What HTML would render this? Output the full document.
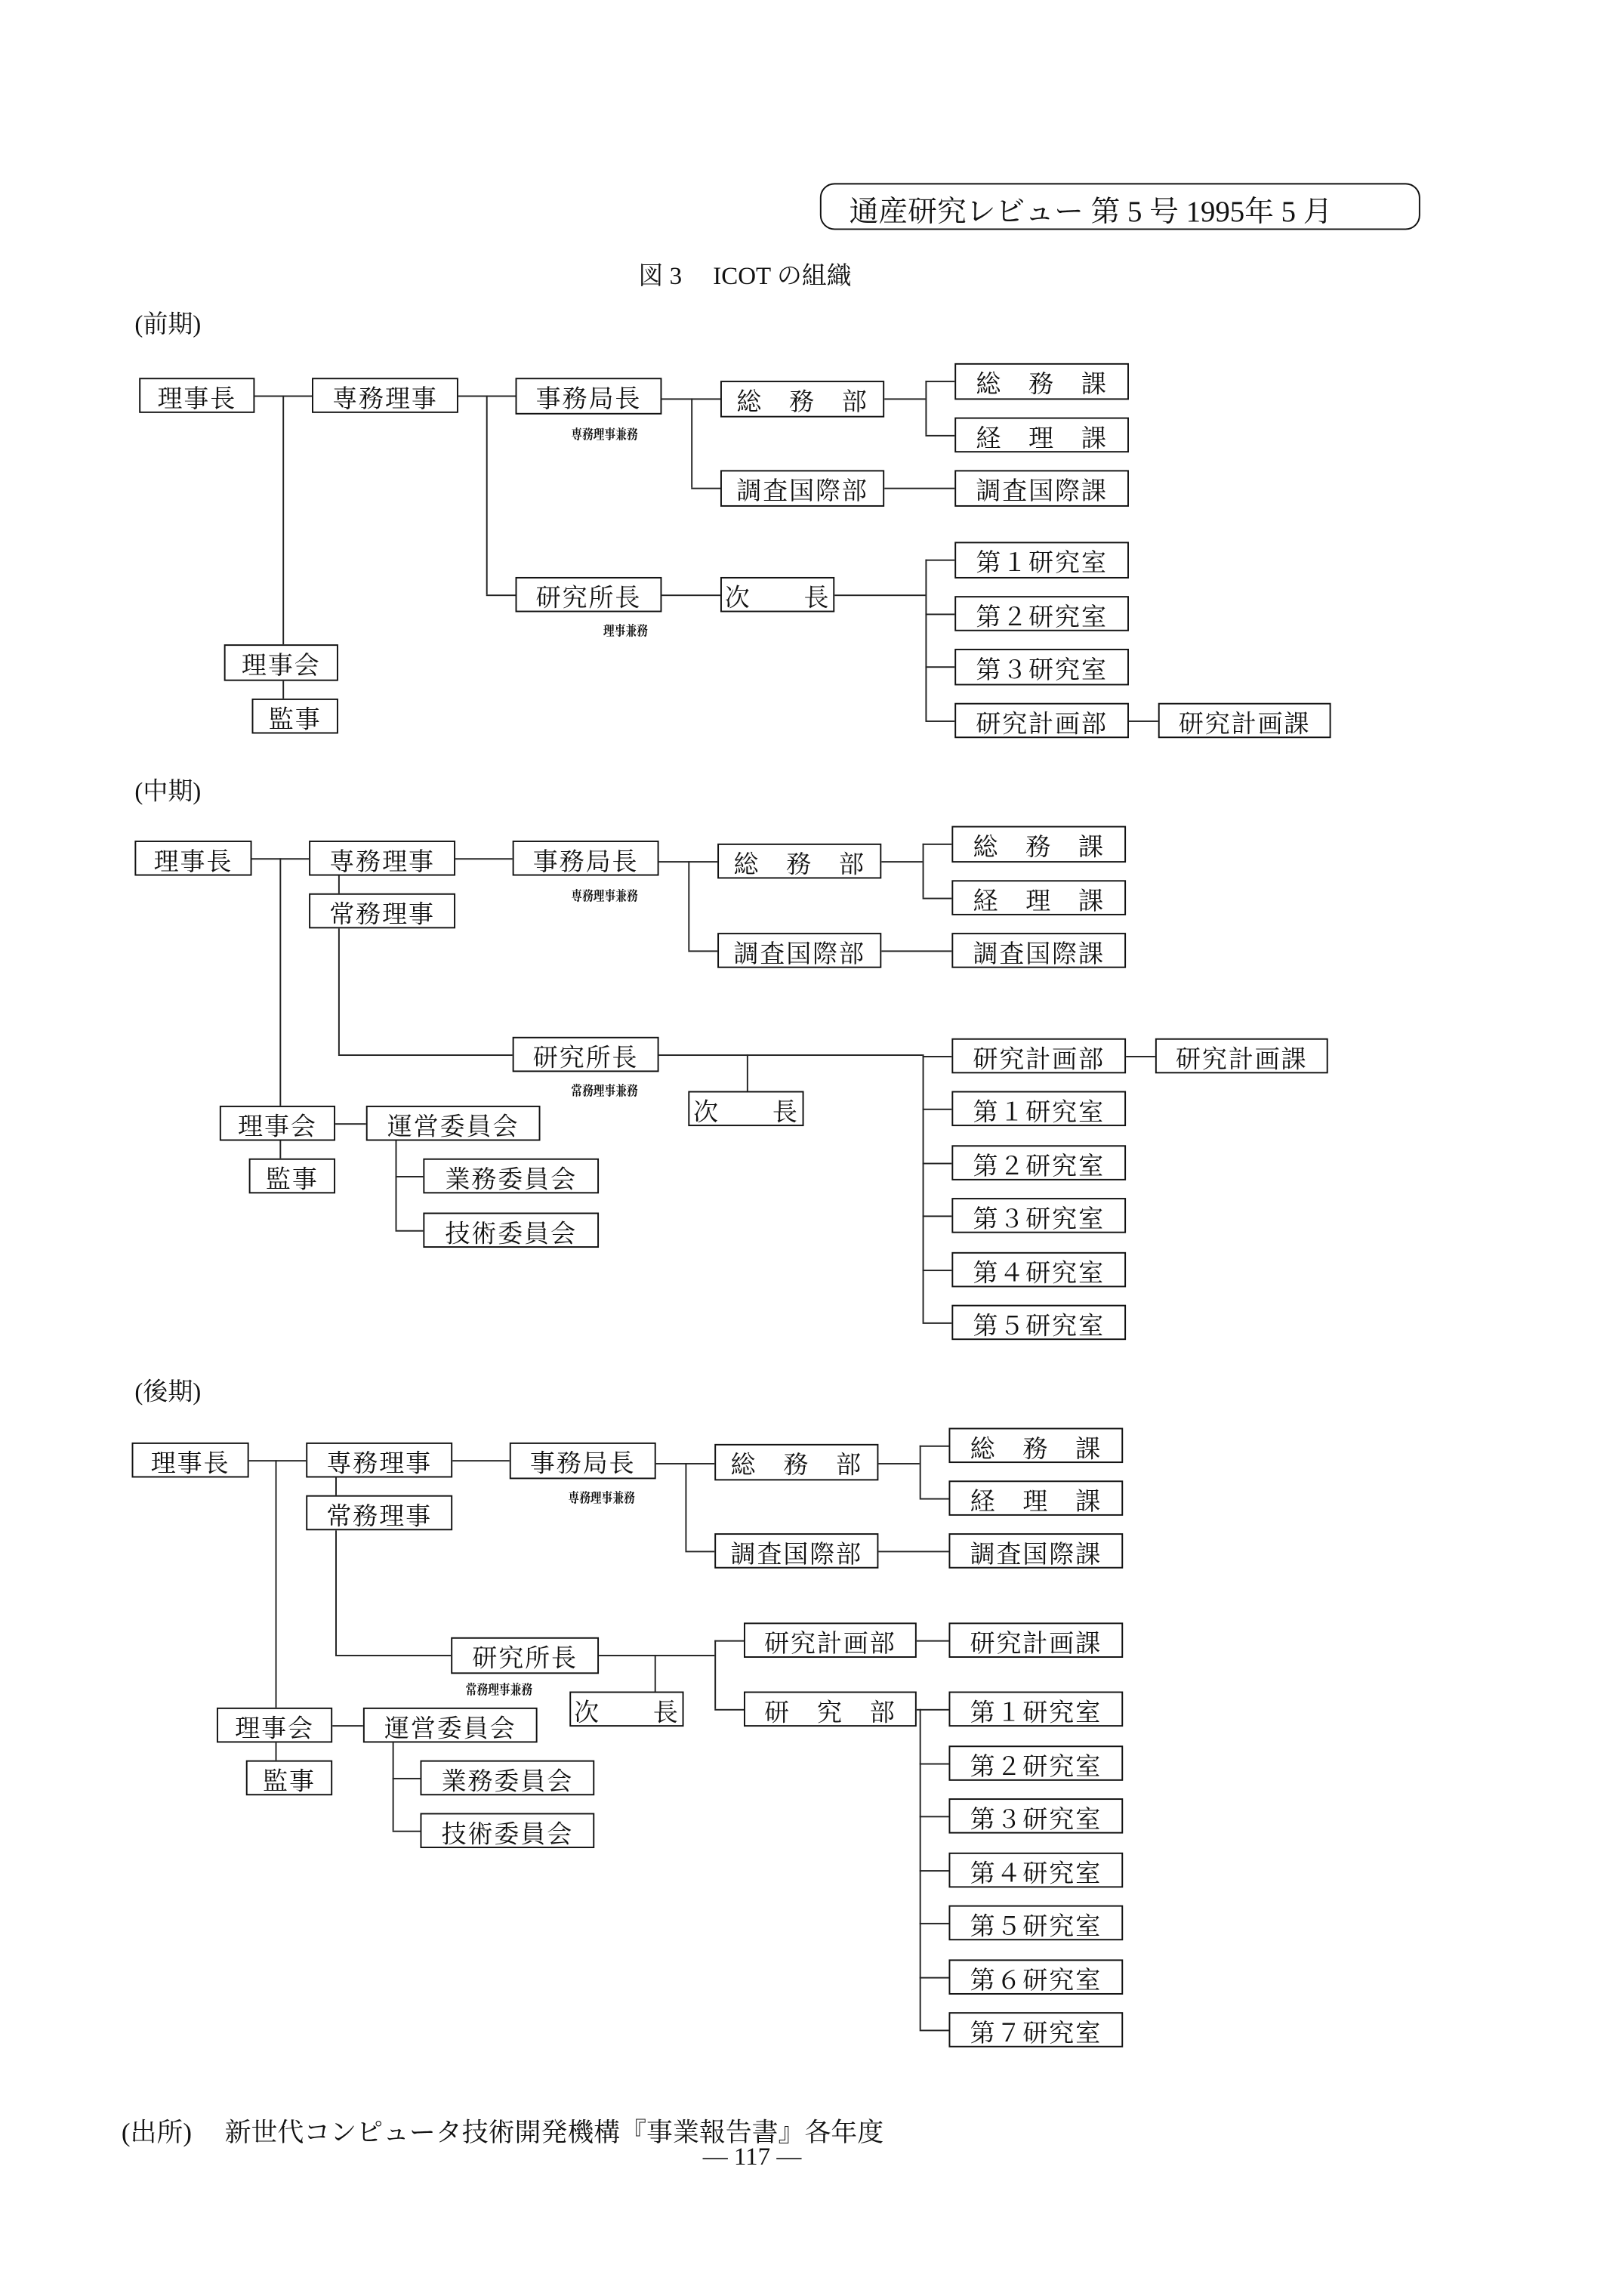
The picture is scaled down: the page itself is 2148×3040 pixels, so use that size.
<!DOCTYPE html>
<html><head><meta charset="utf-8">
<style>
html,body{margin:0;padding:0;background:#fff;}
body{width:2148px;height:3040px;overflow:hidden;position:relative;}
#c{position:absolute;left:0;top:0;width:1108px;height:1568px;transform:scale(1.939);transform-origin:0 0;font-family:"Liberation Serif","Noto Serif CJK SC","Noto Sans CJK JP",serif;color:#111;}
.b{position:absolute;border:1.3px solid #111;box-sizing:border-box;display:flex;align-items:center;justify-content:center;font-size:17px;white-space:nowrap;letter-spacing:1px;background:#fff;}
.h{position:absolute;height:1px;background:#222;}
.v{position:absolute;width:1px;background:#222;}
.s{position:absolute;font-size:9.5px;white-space:nowrap;transform:scaleX(0.8);transform-origin:0 0;font-weight:bold;}
.t{position:absolute;white-space:nowrap;}
</style></head><body><div id="c">
<div style="position:absolute;left:560px;top:125px;width:410px;height:32px;border:1.3px solid #111;border-radius:10px;box-sizing:border-box;"></div>
<div class="t" style="left:580px;top:128px;font-size:20px;">通産研究レビュー 第 5 号 1995年 5 月</div>
<div class="t" style="left:436px;top:174px;font-size:17px;">図 3　 ICOT の組織</div>

<!-- 前期 -->
<div class="t" style="left:92px;top:207px;font-size:17px;">(前期)</div>
<div class="h" style="left:174px;top:270px;width:39px"></div>
<div class="v" style="left:193px;top:270px;height:170px"></div>
<div class="v" style="left:193px;top:465px;height:12px"></div>
<div class="h" style="left:313px;top:270px;width:39px"></div>
<div class="v" style="left:332px;top:270px;height:136px"></div>
<div class="h" style="left:332px;top:406px;width:20px"></div>
<div class="h" style="left:452px;top:272px;width:40px"></div>
<div class="v" style="left:472px;top:272px;height:61px"></div>
<div class="h" style="left:472px;top:333px;width:20px"></div>
<div class="h" style="left:604px;top:272px;width:28px"></div>
<div class="v" style="left:632px;top:260px;height:37px"></div>
<div class="h" style="left:632px;top:260px;width:20px"></div>
<div class="h" style="left:632px;top:297px;width:20px"></div>
<div class="h" style="left:604px;top:333px;width:48px"></div>
<div class="h" style="left:452px;top:406px;width:40px"></div>
<div class="h" style="left:570px;top:406px;width:62px"></div>
<div class="v" style="left:632px;top:382px;height:110px"></div>
<div class="h" style="left:632px;top:382px;width:20px"></div>
<div class="h" style="left:632px;top:419px;width:20px"></div>
<div class="h" style="left:632px;top:455px;width:20px"></div>
<div class="h" style="left:632px;top:492px;width:20px"></div>
<div class="h" style="left:771px;top:492px;width:20px"></div>
<div class="b" style="left:95px;top:258px;width:79px;height:24px">理事長</div>
<div class="b" style="left:213px;top:258px;width:100px;height:24px">専務理事</div>
<div class="b" style="left:352px;top:258px;width:100px;height:25px">事務局長</div>
<div class="s" style="left:390px;top:289px;">専務理事兼務</div>
<div class="b" style="left:492px;top:260px;width:112px;height:25px">総　務　部</div>
<div class="b" style="left:652px;top:248px;width:119px;height:25px">総　務　課</div>
<div class="b" style="left:652px;top:285px;width:119px;height:24px">経　理　課</div>
<div class="b" style="left:492px;top:321px;width:112px;height:25px">調査国際部</div>
<div class="b" style="left:652px;top:321px;width:119px;height:25px">調査国際課</div>
<div class="b" style="left:352px;top:394px;width:100px;height:24px">研究所長</div>
<div class="s" style="left:412px;top:423px;">理事兼務</div>
<div class="b" style="left:492px;top:394px;width:78px;height:24px">次　　長</div>
<div class="b" style="left:652px;top:370px;width:119px;height:25px">第１研究室</div>
<div class="b" style="left:652px;top:407px;width:119px;height:24px">第２研究室</div>
<div class="b" style="left:652px;top:443px;width:119px;height:25px">第３研究室</div>
<div class="b" style="left:652px;top:480px;width:119px;height:24px">研究計画部</div>
<div class="b" style="left:791px;top:480px;width:118px;height:24px">研究計画課</div>
<div class="b" style="left:153px;top:440px;width:78px;height:25px">理事会</div>
<div class="b" style="left:172px;top:477px;width:59px;height:24px">監事</div>

<!-- 中期 -->
<div class="t" style="left:92px;top:526px;font-size:17px;">(中期)</div>
<div class="h" style="left:172px;top:586px;width:39px"></div>
<div class="v" style="left:191px;top:586px;height:169px"></div>
<div class="v" style="left:191px;top:779px;height:12px"></div>
<div class="h" style="left:311px;top:586px;width:39px"></div>
<div class="v" style="left:231px;top:598px;height:12px"></div>
<div class="v" style="left:231px;top:634px;height:86px"></div>
<div class="h" style="left:231px;top:720px;width:119px"></div>
<div class="h" style="left:450px;top:588px;width:40px"></div>
<div class="v" style="left:470px;top:588px;height:61px"></div>
<div class="h" style="left:470px;top:649px;width:20px"></div>
<div class="h" style="left:602px;top:588px;width:28px"></div>
<div class="v" style="left:630px;top:576px;height:37px"></div>
<div class="h" style="left:630px;top:576px;width:20px"></div>
<div class="h" style="left:630px;top:613px;width:20px"></div>
<div class="h" style="left:602px;top:649px;width:48px"></div>
<div class="h" style="left:450px;top:720px;width:180px"></div>
<div class="v" style="left:510px;top:720px;height:25px"></div>
<div class="v" style="left:630px;top:720px;height:183px"></div>
<div class="h" style="left:630px;top:721px;width:20px"></div>
<div class="h" style="left:630px;top:757px;width:20px"></div>
<div class="h" style="left:630px;top:794px;width:20px"></div>
<div class="h" style="left:630px;top:830px;width:20px"></div>
<div class="h" style="left:630px;top:867px;width:20px"></div>
<div class="h" style="left:630px;top:903px;width:20px"></div>
<div class="h" style="left:769px;top:721px;width:20px"></div>
<div class="h" style="left:229px;top:767px;width:21px"></div>
<div class="v" style="left:270px;top:779px;height:61px"></div>
<div class="h" style="left:270px;top:803px;width:19px"></div>
<div class="h" style="left:270px;top:840px;width:19px"></div>
<div class="b" style="left:92px;top:574px;width:80px;height:24px">理事長</div>
<div class="b" style="left:211px;top:574px;width:100px;height:24px">専務理事</div>
<div class="b" style="left:211px;top:610px;width:100px;height:24px">常務理事</div>
<div class="b" style="left:350px;top:574px;width:100px;height:24px">事務局長</div>
<div class="s" style="left:390px;top:604px;">専務理事兼務</div>
<div class="b" style="left:490px;top:576px;width:112px;height:24px">総　務　部</div>
<div class="b" style="left:650px;top:564px;width:119px;height:25px">総　務　課</div>
<div class="b" style="left:650px;top:601px;width:119px;height:24px">経　理　課</div>
<div class="b" style="left:490px;top:637px;width:112px;height:24px">調査国際部</div>
<div class="b" style="left:650px;top:637px;width:119px;height:24px">調査国際課</div>
<div class="b" style="left:350px;top:708px;width:100px;height:24px">研究所長</div>
<div class="s" style="left:390px;top:737px;">常務理事兼務</div>
<div class="b" style="left:470px;top:745px;width:79px;height:24px">次　　長</div>
<div class="b" style="left:650px;top:709px;width:119px;height:24px">研究計画部</div>
<div class="b" style="left:789px;top:709px;width:118px;height:24px">研究計画課</div>
<div class="b" style="left:650px;top:745px;width:119px;height:24px">第１研究室</div>
<div class="b" style="left:650px;top:782px;width:119px;height:24px">第２研究室</div>
<div class="b" style="left:650px;top:818px;width:119px;height:24px">第３研究室</div>
<div class="b" style="left:650px;top:855px;width:119px;height:24px">第４研究室</div>
<div class="b" style="left:650px;top:891px;width:119px;height:24px">第５研究室</div>
<div class="b" style="left:150px;top:755px;width:79px;height:24px">理事会</div>
<div class="b" style="left:170px;top:791px;width:59px;height:24px">監事</div>
<div class="b" style="left:250px;top:755px;width:119px;height:24px">運営委員会</div>
<div class="b" style="left:289px;top:791px;width:120px;height:24px">業務委員会</div>
<div class="b" style="left:289px;top:828px;width:120px;height:24px">技術委員会</div>

<!-- 後期 -->
<div class="t" style="left:92px;top:936px;font-size:17px;">(後期)</div>
<div class="h" style="left:170px;top:997px;width:39px"></div>
<div class="v" style="left:188px;top:997px;height:169px"></div>
<div class="v" style="left:188px;top:1190px;height:12px"></div>
<div class="h" style="left:309px;top:997px;width:39px"></div>
<div class="v" style="left:229px;top:1009px;height:12px"></div>
<div class="v" style="left:229px;top:1045px;height:85px"></div>
<div class="h" style="left:229px;top:1130px;width:79px"></div>
<div class="h" style="left:448px;top:999px;width:40px"></div>
<div class="v" style="left:468px;top:999px;height:60px"></div>
<div class="h" style="left:468px;top:1059px;width:20px"></div>
<div class="h" style="left:600px;top:999px;width:28px"></div>
<div class="v" style="left:628px;top:987px;height:36px"></div>
<div class="h" style="left:628px;top:987px;width:20px"></div>
<div class="h" style="left:628px;top:1023px;width:20px"></div>
<div class="h" style="left:600px;top:1059px;width:48px"></div>
<div class="h" style="left:409px;top:1130px;width:79px"></div>
<div class="v" style="left:447px;top:1130px;height:25px"></div>
<div class="v" style="left:488px;top:1120px;height:47px"></div>
<div class="h" style="left:488px;top:1120px;width:20px"></div>
<div class="h" style="left:488px;top:1167px;width:20px"></div>
<div class="h" style="left:626px;top:1120px;width:22px"></div>
<div class="h" style="left:626px;top:1167px;width:22px"></div>
<div class="v" style="left:628px;top:1167px;height:219px"></div>
<div class="h" style="left:628px;top:1204px;width:20px"></div>
<div class="h" style="left:628px;top:1240px;width:20px"></div>
<div class="h" style="left:628px;top:1277px;width:20px"></div>
<div class="h" style="left:628px;top:1313px;width:20px"></div>
<div class="h" style="left:628px;top:1350px;width:20px"></div>
<div class="h" style="left:628px;top:1386px;width:20px"></div>
<div class="h" style="left:227px;top:1178px;width:21px"></div>
<div class="v" style="left:268px;top:1190px;height:60px"></div>
<div class="h" style="left:268px;top:1214px;width:19px"></div>
<div class="h" style="left:268px;top:1250px;width:19px"></div>
<div class="b" style="left:90px;top:985px;width:80px;height:24px">理事長</div>
<div class="b" style="left:209px;top:985px;width:100px;height:24px">専務理事</div>
<div class="b" style="left:209px;top:1021px;width:100px;height:24px">常務理事</div>
<div class="b" style="left:348px;top:985px;width:100px;height:25px">事務局長</div>
<div class="s" style="left:388px;top:1015px;">専務理事兼務</div>
<div class="b" style="left:488px;top:986px;width:112px;height:25px">総　務　部</div>
<div class="b" style="left:648px;top:975px;width:119px;height:24px">総　務　課</div>
<div class="b" style="left:648px;top:1011px;width:119px;height:24px">経　理　課</div>
<div class="b" style="left:488px;top:1047px;width:112px;height:24px">調査国際部</div>
<div class="b" style="left:648px;top:1047px;width:119px;height:24px">調査国際課</div>
<div class="b" style="left:308px;top:1118px;width:101px;height:25px">研究所長</div>
<div class="s" style="left:318px;top:1146px;">常務理事兼務</div>
<div class="b" style="left:389px;top:1155px;width:78px;height:24px">次　　長</div>
<div class="b" style="left:508px;top:1108px;width:118px;height:24px">研究計画部</div>
<div class="b" style="left:648px;top:1108px;width:119px;height:24px">研究計画課</div>
<div class="b" style="left:508px;top:1155px;width:118px;height:24px">研　究　部</div>
<div class="b" style="left:648px;top:1155px;width:119px;height:24px">第１研究室</div>
<div class="b" style="left:648px;top:1192px;width:119px;height:24px">第２研究室</div>
<div class="b" style="left:648px;top:1228px;width:119px;height:24px">第３研究室</div>
<div class="b" style="left:648px;top:1265px;width:119px;height:24px">第４研究室</div>
<div class="b" style="left:648px;top:1301px;width:119px;height:24px">第５研究室</div>
<div class="b" style="left:648px;top:1338px;width:119px;height:24px">第６研究室</div>
<div class="b" style="left:648px;top:1374px;width:119px;height:24px">第７研究室</div>
<div class="b" style="left:148px;top:1166px;width:79px;height:24px">理事会</div>
<div class="b" style="left:168px;top:1202px;width:59px;height:24px">監事</div>
<div class="b" style="left:248px;top:1166px;width:119px;height:24px">運営委員会</div>
<div class="b" style="left:287px;top:1202px;width:119px;height:24px">業務委員会</div>
<div class="b" style="left:287px;top:1238px;width:119px;height:24px">技術委員会</div>

<div class="t" style="left:83px;top:1442px;font-size:18px;">(出所)　 新世代コンピュータ技術開発機構『事業報告書』各年度</div>
<div class="t" style="left:480px;top:1463px;font-size:17px;">— 117 —</div>
</div></body></html>
